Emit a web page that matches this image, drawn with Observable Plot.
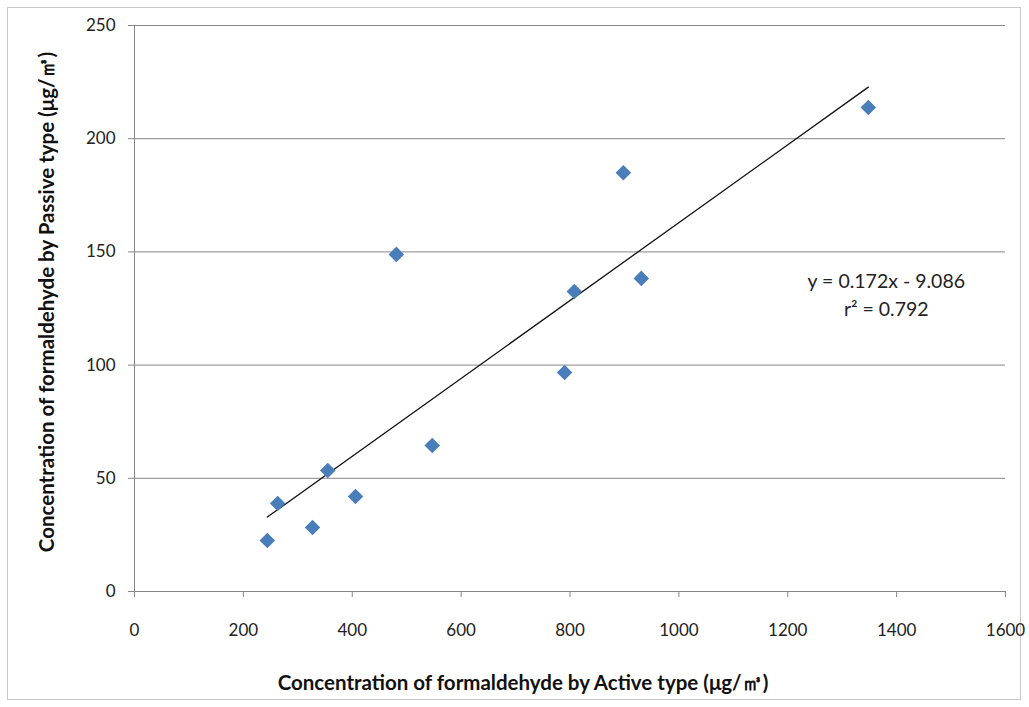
<!DOCTYPE html>
<html>
<head>
<meta charset="utf-8">
<script src="https://cdn.jsdelivr.net/npm/d3@7"></script>
<script src="https://cdn.jsdelivr.net/npm/@observablehq/plot@0.6"></script>
<style>
  html, body { margin: 0; padding: 0; background: #fff; }
  #wrap { position: relative; width: 1029px; height: 707px; }
  #border { position: absolute; left: 7px; top: 7px; width: 1012px; height: 691px; border: 1px solid #c8c8c8; pointer-events: none; }
</style>
</head>
<body>
<div id="wrap"><div id="border"></div></div>
<script>
// Data
const activeConc = [244, 263, 327, 355, 406, 481, 547, 790, 808, 898, 931, 1348];
const passiveConc = [22.5, 38.9, 28.3, 53.4, 42.0, 148.9, 64.5, 96.7, 132.5, 185.0, 138.3, 213.8];
const slope = 0.172;
const intercept = -9.086;
const r2 = 0.792;
const xTicks = [0, 200, 400, 600, 800, 1000, 1200, 1400, 1600];
const yTicks = [0, 50, 100, 150, 200, 250];
const xTitle = "Concentration of formaldehyde by Active type (\u03bcg/\u33a5)";
const yTitle = "Concentration of formaldehyde by Passive type (\u03bcg/\u33a5)";

const points = activeConc.map((x, i) => ({x, y: passiveConc[i]}));
const xMin = d3.min(activeConc), xMax = d3.max(activeConc);
const trend = [xMin, xMax].map(x => ({x, y: slope * x + intercept}));
const eqLabels = [
  {x: 1381, y: 136.8, t: `y = ${slope}x - ${Math.abs(intercept).toFixed(3)}`},
  {x: 1381, y: 124.4, t: `r\u00b2 = ${r2}`}
];

const font = "Lato, 'Open Sans', sans-serif";

const chart = Plot.plot({
  width: 1029,
  height: 707,
  marginLeft: 134,
  marginRight: 24,
  marginTop: 25,
  marginBottom: 116,
  style: { fontFamily: font, fontSize: "17px", color: "#222", background: "transparent" },
  x: { domain: [0, 1600], ticks: xTicks, label: null },
  y: { domain: [0, 250], ticks: yTicks, label: null },
  marks: [
    Plot.gridY(yTicks, { stroke: "#868686", strokeOpacity: 1, strokeWidth: 1 }),
    Plot.ruleX([0], { stroke: "#868686" }),
    Plot.ruleY([0], { stroke: "#868686" }),
    Plot.axisX({ ticks: xTicks, tickFormat: d => String(d), tickSize: 6, tickPadding: 26, stroke: "#868686", fill: "#222", fontSize: 17, label: null }),
    Plot.axisY({ ticks: yTicks, tickFormat: d => String(d), tickSize: 6, tickPadding: 13, stroke: "#868686", fill: "#222", fontSize: 17, label: null }),
    Plot.line(trend, { x: "x", y: "y", stroke: "#111", strokeWidth: 1.3 }),
    Plot.dot(points, { x: "x", y: "y", symbol: "diamond2", r: 7, fill: "#4a7ebb", stroke: "none" }),
    Plot.text(eqLabels, { x: "x", y: "y", text: "t", fontSize: 19.5, fill: "#222", fontFamily: font })
  ]
});

const svg = d3.select(chart);
svg.append("text")
  .attr("x", 523).attr("y", 690)
  .attr("text-anchor", "middle")
  .attr("font-family", font)
  .attr("font-weight", "bold").attr("font-size", 20.5).attr("fill", "#111")
  .text(xTitle);
svg.append("text")
  .attr("transform", "translate(54,302) rotate(-90)")
  .attr("text-anchor", "middle")
  .attr("font-family", font)
  .attr("font-weight", "bold").attr("font-size", 20.5).attr("fill", "#111")
  .text(yTitle);

document.getElementById("wrap").appendChild(chart);
chart.style.position = "absolute";
chart.style.left = "0";
chart.style.top = "0";
</script>
</body>
</html>
